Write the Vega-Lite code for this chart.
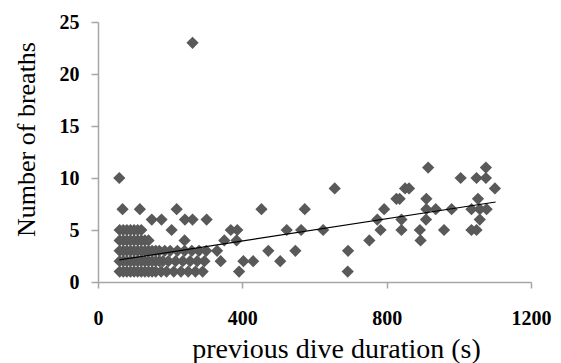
{
  "$schema": "https://vega.github.io/schema/vega-lite/v6.json",
  "width": 433,
  "height": 260,
  "autosize": {"type": "none"},
  "padding": {"left": 98, "top": 22, "right": 30, "bottom": 81},
  "background": "white",
  "config": {"view": {"stroke": null}},
  "datasets": {
    "pts": [
      {"d": 60, "b": 1}, {"d": 70, "b": 1}, {"d": 80, "b": 1}, {"d": 90, "b": 1}, {"d": 100, "b": 1}, {"d": 110, "b": 1}, {"d": 120, "b": 1}, {"d": 130, "b": 1}, {"d": 140, "b": 1}, {"d": 150, "b": 1}, {"d": 160, "b": 1}, {"d": 175, "b": 1}, {"d": 190, "b": 1}, {"d": 210, "b": 1}, {"d": 230, "b": 1}, {"d": 250, "b": 1}, {"d": 270, "b": 1}, {"d": 290, "b": 1}, {"d": 391, "b": 1}, {"d": 692, "b": 1},
      {"d": 60, "b": 2}, {"d": 70, "b": 2}, {"d": 80, "b": 2}, {"d": 90, "b": 2}, {"d": 100, "b": 2}, {"d": 110, "b": 2}, {"d": 120, "b": 2}, {"d": 130, "b": 2}, {"d": 140, "b": 2}, {"d": 150, "b": 2}, {"d": 160, "b": 2}, {"d": 170, "b": 2}, {"d": 180, "b": 2}, {"d": 195, "b": 2}, {"d": 215, "b": 2}, {"d": 235, "b": 2}, {"d": 255, "b": 2}, {"d": 275, "b": 2}, {"d": 295, "b": 2}, {"d": 340, "b": 2}, {"d": 403, "b": 2}, {"d": 430, "b": 2}, {"d": 505, "b": 2},
      {"d": 60, "b": 3}, {"d": 70, "b": 3}, {"d": 80, "b": 3}, {"d": 90, "b": 3}, {"d": 100, "b": 3}, {"d": 110, "b": 3}, {"d": 120, "b": 3}, {"d": 130, "b": 3}, {"d": 140, "b": 3}, {"d": 150, "b": 3}, {"d": 160, "b": 3}, {"d": 170, "b": 3}, {"d": 185, "b": 3}, {"d": 200, "b": 3}, {"d": 220, "b": 3}, {"d": 240, "b": 3}, {"d": 260, "b": 3}, {"d": 280, "b": 3}, {"d": 300, "b": 3}, {"d": 330, "b": 3}, {"d": 472, "b": 3}, {"d": 547, "b": 3}, {"d": 693, "b": 3},
      {"d": 60, "b": 4}, {"d": 70, "b": 4}, {"d": 80, "b": 4}, {"d": 90, "b": 4}, {"d": 100, "b": 4}, {"d": 110, "b": 4}, {"d": 120, "b": 4}, {"d": 130, "b": 4}, {"d": 140, "b": 4}, {"d": 240, "b": 4}, {"d": 350, "b": 4}, {"d": 384, "b": 4}, {"d": 752, "b": 4}, {"d": 894, "b": 4},
      {"d": 60, "b": 5}, {"d": 70, "b": 5}, {"d": 80, "b": 5}, {"d": 90, "b": 5}, {"d": 100, "b": 5}, {"d": 110, "b": 5}, {"d": 120, "b": 5}, {"d": 204, "b": 5}, {"d": 368, "b": 5}, {"d": 386, "b": 5}, {"d": 523, "b": 5}, {"d": 563, "b": 5}, {"d": 624, "b": 5}, {"d": 783, "b": 5}, {"d": 841, "b": 5}, {"d": 892, "b": 5}, {"d": 959, "b": 5}, {"d": 1035, "b": 5}, {"d": 1049, "b": 5},
      {"d": 149, "b": 6}, {"d": 176, "b": 6}, {"d": 241, "b": 6}, {"d": 262, "b": 6}, {"d": 301, "b": 6}, {"d": 774, "b": 6}, {"d": 841, "b": 6}, {"d": 909, "b": 6}, {"d": 1058, "b": 6},
      {"d": 68, "b": 7}, {"d": 116, "b": 7}, {"d": 218, "b": 7}, {"d": 453, "b": 7}, {"d": 573, "b": 7}, {"d": 793, "b": 7}, {"d": 910, "b": 7}, {"d": 936, "b": 7}, {"d": 980, "b": 7}, {"d": 1035, "b": 7}, {"d": 1058, "b": 7}, {"d": 1077, "b": 7},
      {"d": 827, "b": 8}, {"d": 836, "b": 8}, {"d": 910, "b": 8}, {"d": 1053, "b": 8},
      {"d": 656, "b": 9}, {"d": 851, "b": 9}, {"d": 862, "b": 9}, {"d": 1100, "b": 9},
      {"d": 59, "b": 10}, {"d": 1005, "b": 10}, {"d": 1049, "b": 10}, {"d": 1075, "b": 10},
      {"d": 915, "b": 11}, {"d": 1075, "b": 11},
      {"d": 262, "b": 23}
    ],
    "trend": [
      {"d": 59, "b": 2.12},
      {"d": 1102, "b": 7.69}
    ]
  },
  "layer": [
    {
      "data": {"name": "pts"},
      "mark": {"type": "point", "shape": "diamond", "filled": true, "size": 150, "color": "#595959", "opacity": 1},
      "encoding": {
        "x": {
          "field": "d", "type": "quantitative",
          "scale": {"domain": [0, 1200], "nice": false, "zero": true},
          "axis": {
            "values": [0, 400, 800, 1200],
            "format": "d",
            "labelFlush": false,
            "title": "previous dive duration (s)",
            "grid": false,
            "domainColor": "#a6a6a6", "domainWidth": 1.5,
            "tickColor": "#a6a6a6", "tickWidth": 1.5, "tickSize": 6,
            "labelFont": "Liberation Serif", "labelFontSize": 20, "labelFontWeight": "bold", "labelColor": "#000000",
            "labelPadding": 20,
            "titleFont": "Liberation Serif", "titleFontSize": 28, "titleFontWeight": "normal", "titleColor": "#000000",
            "titleX": 238, "titleY": 75, "titleBaseline": "alphabetic", "titleAlign": "center"
          }
        },
        "y": {
          "field": "b", "type": "quantitative",
          "scale": {"domain": [0, 25], "nice": false},
          "axis": {
            "values": [0, 5, 10, 15, 20, 25],
            "labelFlush": false,
            "title": "Number of breaths",
            "grid": false,
            "domainColor": "#a6a6a6", "domainWidth": 1.5,
            "tickColor": "#a6a6a6", "tickWidth": 1.5, "tickSize": 7,
            "labelFont": "Liberation Serif", "labelFontSize": 20, "labelFontWeight": "bold", "labelColor": "#000000",
            "labelPadding": 12,
            "titleFont": "Liberation Serif", "titleFontSize": 26, "titleFontWeight": "normal", "titleColor": "#000000",
            "titleX": -72, "titleY": 117, "titleAngle": -90, "titleBaseline": "middle", "titleAlign": "center"
          }
        }
      }
    },
    {
      "data": {"name": "trend"},
      "mark": {"type": "line", "color": "#000000", "strokeWidth": 1.2},
      "encoding": {
        "x": {"field": "d", "type": "quantitative"},
        "y": {"field": "b", "type": "quantitative"}
      }
    }
  ]
}
